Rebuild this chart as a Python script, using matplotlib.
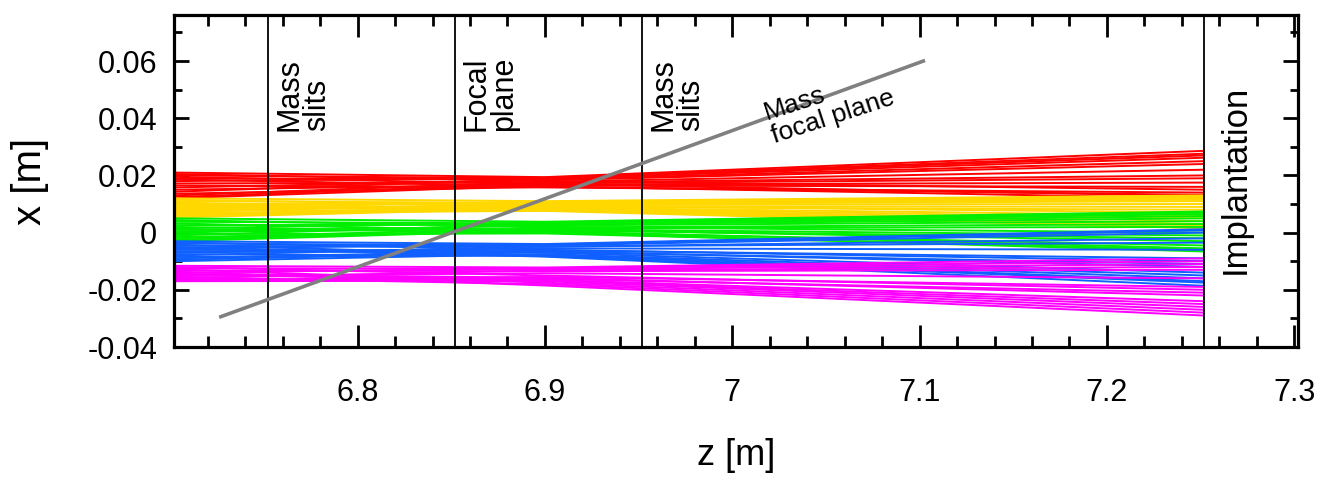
import matplotlib
matplotlib.use("Agg")
import matplotlib.pyplot as plt
from matplotlib.ticker import FixedLocator, MultipleLocator, FuncFormatter
from matplotlib import font_manager

plt.rcParams['axes.unicode_minus'] = False

# pick fonts (narrow one for the ticks if it is there)
names = set(f.name for f in font_manager.fontManager.ttflist)
narrow = "Liberation Sans Narrow" if "Liberation Sans Narrow" in names else "Liberation Sans"
plt.rcParams['font.family'] = ['Liberation Sans', 'DejaVu Sans']

# z positions where the trajectories are sampled
z_pts = [6.702, 6.9, 7.252]

# bundle colours
colors = ["#ff0000", "#ffd800", "#00ee00", "#1060ff", "#ff00ff"]

# x [m] at z = 6.70, 6.90, 7.25 for each ray of each bundle
red_start = [0.0210, 0.0205, 0.0200, 0.0195, 0.0190, 0.0186, 0.0180, 0.0172, 0.0165, 0.0158, 0.0150, 0.0143, 0.0136, 0.0130, 0.0124, 0.0120]
red_mid = [0.0194, 0.0180, 0.0190, 0.0170, 0.0185, 0.0162, 0.0192, 0.0175, 0.0158, 0.0183, 0.0168, 0.0188, 0.0160, 0.0178, 0.0172, 0.0165]
red_end = [0.0286, 0.0150, 0.0270, 0.0128, 0.0250, 0.0120, 0.0276, 0.0200, 0.0140, 0.0240, 0.0175, 0.0262, 0.0132, 0.0220, 0.0190, 0.0160]

yel_start = [0.0120, 0.0115, 0.0110, 0.0105, 0.0100, 0.0096, 0.0092, 0.0088, 0.0084, 0.0080, 0.0076, 0.0072, 0.0068, 0.0063, 0.0058, 0.0053]
yel_mid = [0.0110, 0.0095, 0.0104, 0.0082, 0.0100, 0.0078, 0.0107, 0.0090, 0.0086, 0.0098, 0.0080, 0.0102, 0.0076, 0.0093, 0.0088, 0.0084]
yel_end = [0.0130, 0.0070, 0.0120, 0.0030, 0.0110, 0.0018, 0.0125, 0.0080, 0.0050, 0.0100, 0.0025, 0.0115, 0.0015, 0.0090, 0.0060, 0.0040]

grn_start = [0.0050, 0.0044, 0.0038, 0.0032, 0.0026, 0.0020, 0.0015, 0.0010, 0.0005, 0.0000, -0.0005, -0.0010, -0.0015, -0.0020, -0.0025, -0.0030]
grn_mid = [0.0038, 0.0020, 0.0032, 0.0005, 0.0028, 0.0000, 0.0035, 0.0015, 0.0010, 0.0025, -0.0003, 0.0030, 0.0002, 0.0018, 0.0012, 0.0008]
grn_end = [0.0074, 0.0000, 0.0065, -0.0055, 0.0050, -0.0066, 0.0070, 0.0020, -0.0030, 0.0040, -0.0060, 0.0058, -0.0045, 0.0030, -0.0010, -0.0020]

blu_start = [-0.0030, -0.0034, -0.0038, -0.0042, -0.0046, -0.0050, -0.0055, -0.0060, -0.0065, -0.0070, -0.0075, -0.0080, -0.0085, -0.0090, -0.0095, -0.0100]
blu_mid = [-0.0040, -0.0060, -0.0045, -0.0080, -0.0050, -0.0084, -0.0042, -0.0065, -0.0070, -0.0055, -0.0082, -0.0048, -0.0078, -0.0062, -0.0068, -0.0075]
blu_end = [0.0012, -0.0100, 0.0000, -0.0170, -0.0020, -0.0186, 0.0008, -0.0120, -0.0140, -0.0060, -0.0175, -0.0035, -0.0160, -0.0090, -0.0110, -0.0150]

mag_start = [-0.0116, -0.0120, -0.0124, -0.0128, -0.0132, -0.0136, -0.0140, -0.0144, -0.0148, -0.0152, -0.0156, -0.0160, -0.0163, -0.0166, -0.0168, -0.0170]
mag_mid = [-0.0122, -0.0150, -0.0128, -0.0175, -0.0135, -0.0185, -0.0125, -0.0158, -0.0165, -0.0142, -0.0180, -0.0132, -0.0170, -0.0155, -0.0162, -0.0168]
mag_end = [-0.0090, -0.0200, -0.0110, -0.0270, -0.0130, -0.0290, -0.0100, -0.0220, -0.0240, -0.0160, -0.0280, -0.0120, -0.0260, -0.0190, -0.0210, -0.0250]

bundles = [(red_start, red_mid, red_end), (yel_start, yel_mid, yel_end),
           (grn_start, grn_mid, grn_end), (blu_start, blu_mid, blu_end),
           (mag_start, mag_mid, mag_end)]

# marker planes
plane_z = [6.752, 6.852, 6.952, 7.252]

# mass focal plane line
mfp_z = [6.727, 7.102]
mfp_x = [-0.0294, 0.060]

fig = plt.figure(figsize=(13.26, 4.9), dpi=100)
ax = fig.add_axes([174/1326, 143/490, 1124/1326, 332/490])

for (st, md, en), c in zip(bundles, colors):
    for a, b, e in zip(st, md, en):
        ax.plot(z_pts, [a, b, e], color=c, lw=1.4, solid_capstyle='butt')

for zp in plane_z:
    ax.axvline(zp, color="black", lw=1.3)

ax.plot(mfp_z, mfp_x, color="#808080", lw=2.6)

rot_kw = dict(rotation=90, ha="left", va="bottom", fontsize=22, linespacing=0.9, multialignment="left")
ax.text(6.7555, 0.0357, "Mass\nslits", **rot_kw)
ax.text(6.8555, 0.0357, "Focal\nplane", **rot_kw)
ax.text(6.9555, 0.0357, "Mass\nslits", **rot_kw)
ax.text(7.2595, 0.0186, "Implantation", rotation=90, ha="left", va="center", fontsize=25)
ax.text(7.052, 0.0445, "Mass\nfocal plane", rotation=18, rotation_mode="anchor",
        ha="center", va="center", fontsize=19, linespacing=1.0, multialignment="left")

ax.set_xlim(6.702, 7.302)
ax.set_ylim(-0.04, 0.0761)

ax.xaxis.set_major_locator(FixedLocator([6.8, 6.9, 7.0, 7.1, 7.2, 7.3]))
ax.xaxis.set_minor_locator(MultipleLocator(0.02))
ax.yaxis.set_major_locator(FixedLocator([-0.04, -0.02, 0.0, 0.02, 0.04, 0.06]))
ax.yaxis.set_minor_locator(MultipleLocator(0.01))
ax.xaxis.set_major_formatter(FuncFormatter(lambda v, p: f"{v:g}"))
ax.yaxis.set_major_formatter(FuncFormatter(lambda v, p: f"{round(v, 3):g}"))

ax.tick_params(which="both", direction="in", top=True, right=True, width=2)
ax.tick_params(axis="x", which="major", length=15.5, pad=22)
ax.tick_params(axis="x", which="minor", length=8)
ax.tick_params(axis="y", which="major", length=11, pad=12)
ax.tick_params(axis="y", which="minor", length=6)
for lab in ax.get_xticklabels() + ax.get_yticklabels():
    lab.set_fontfamily(narrow)
    lab.set_fontsize(22)

for s in ax.spines.values():
    s.set_linewidth(2.3)

ax.set_xlabel("z [m]", fontsize=26, family=narrow, labelpad=22)
ax.set_ylabel("x [m]", fontsize=29, labelpad=28)

fig.savefig("out.png", dpi=100)
